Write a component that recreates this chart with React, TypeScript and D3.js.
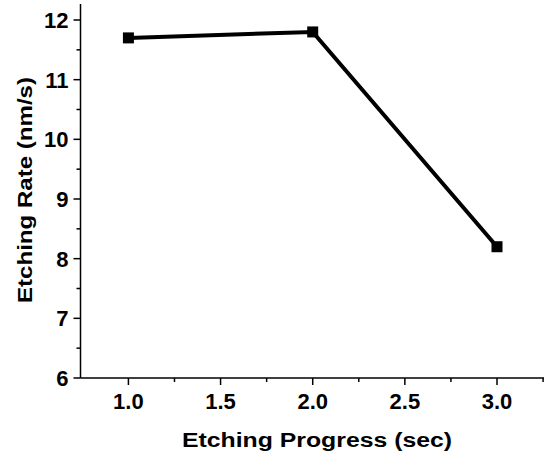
import React from "react";
import * as d3 from "d3";

const xValues = [1.0, 2.0, 3.0];
const yValues = [11.7, 11.8, 8.2];
const xTicks = [1.0, 1.5, 2.0, 2.5, 3.0];
const xMinorTicks = [1.25, 1.75, 2.25, 2.75, 3.25];
const yTicks = [6, 7, 8, 9, 10, 11, 12];
const yMinorTicks = [6.5, 7.5, 8.5, 9.5, 10.5, 11.5];
const xTitle = "Etching Progress (sec)";
const yTitle = "Etching Rate (nm/s)";

export default function App() {
  const W = 544, H = 456;
  const left = 80.5, right = 544, top = 4, bottom = 378;
  const x = d3.scaleLinear().domain([0.74, 3.255]).range([left, right]);
  const y = d3.scaleLinear().domain([6, 12]).range([bottom, 20]);
  const pts = xValues.map((v, i) => [x(v), y(yValues[i])] as [number, number]);
  const line = d3.line()(pts) || "";
  const font = "'Liberation Sans', Arial, sans-serif";
  return (
    <svg width={W} height={H} style={{ position: "absolute", left: 0, top: 0, background: "#fff" }} fontFamily={font}>
      <line x1={left} x2={left} y1={top} y2={bottom} stroke="#000" strokeWidth={1.5} />
      <line x1={left} x2={right} y1={bottom} y2={bottom} stroke="#000" strokeWidth={1.5} />
      {yTicks.map((t) => (
        <g key={"y" + t}>
          <line x1={left - 7} x2={left} y1={y(t)} y2={y(t)} stroke="#000" strokeWidth={1.5} />
          <text x={left - 12} y={y(t)} dy="0.36em" textAnchor="end" fontSize={22} fontWeight="bold">{t}</text>
        </g>
      ))}
      {yMinorTicks.map((t) => (
        <line key={"ym" + t} x1={left - 4} x2={left} y1={y(t)} y2={y(t)} stroke="#000" strokeWidth={1.5} />
      ))}
      {xTicks.map((t) => (
        <g key={"x" + t}>
          <line x1={x(t)} x2={x(t)} y1={bottom} y2={bottom + 7} stroke="#000" strokeWidth={1.5} />
          <text x={x(t)} y={409} textAnchor="middle" fontSize={22} fontWeight="bold">{t.toFixed(1)}</text>
        </g>
      ))}
      {xMinorTicks.map((t) => (
        <line key={"xm" + t} x1={x(t)} x2={x(t)} y1={bottom} y2={bottom + 4} stroke="#000" strokeWidth={1.5} />
      ))}
      <path d={line} fill="none" stroke="#000" strokeWidth={4} />
      {pts.map((p, i) => (
        <rect key={i} x={p[0] - 5.5} y={p[1] - 5.5} width={11} height={11} fill="#000" />
      ))}
      <text x={317} y={447} textAnchor="middle" fontSize={20} fontWeight="bold" textLength={270} lengthAdjust="spacingAndGlyphs">{xTitle}</text>
      <text transform={`translate(32, 190) rotate(-90)`} textAnchor="middle" fontSize={20.5} fontWeight="bold" textLength={226} lengthAdjust="spacingAndGlyphs">{yTitle}</text>
    </svg>
  );
}
